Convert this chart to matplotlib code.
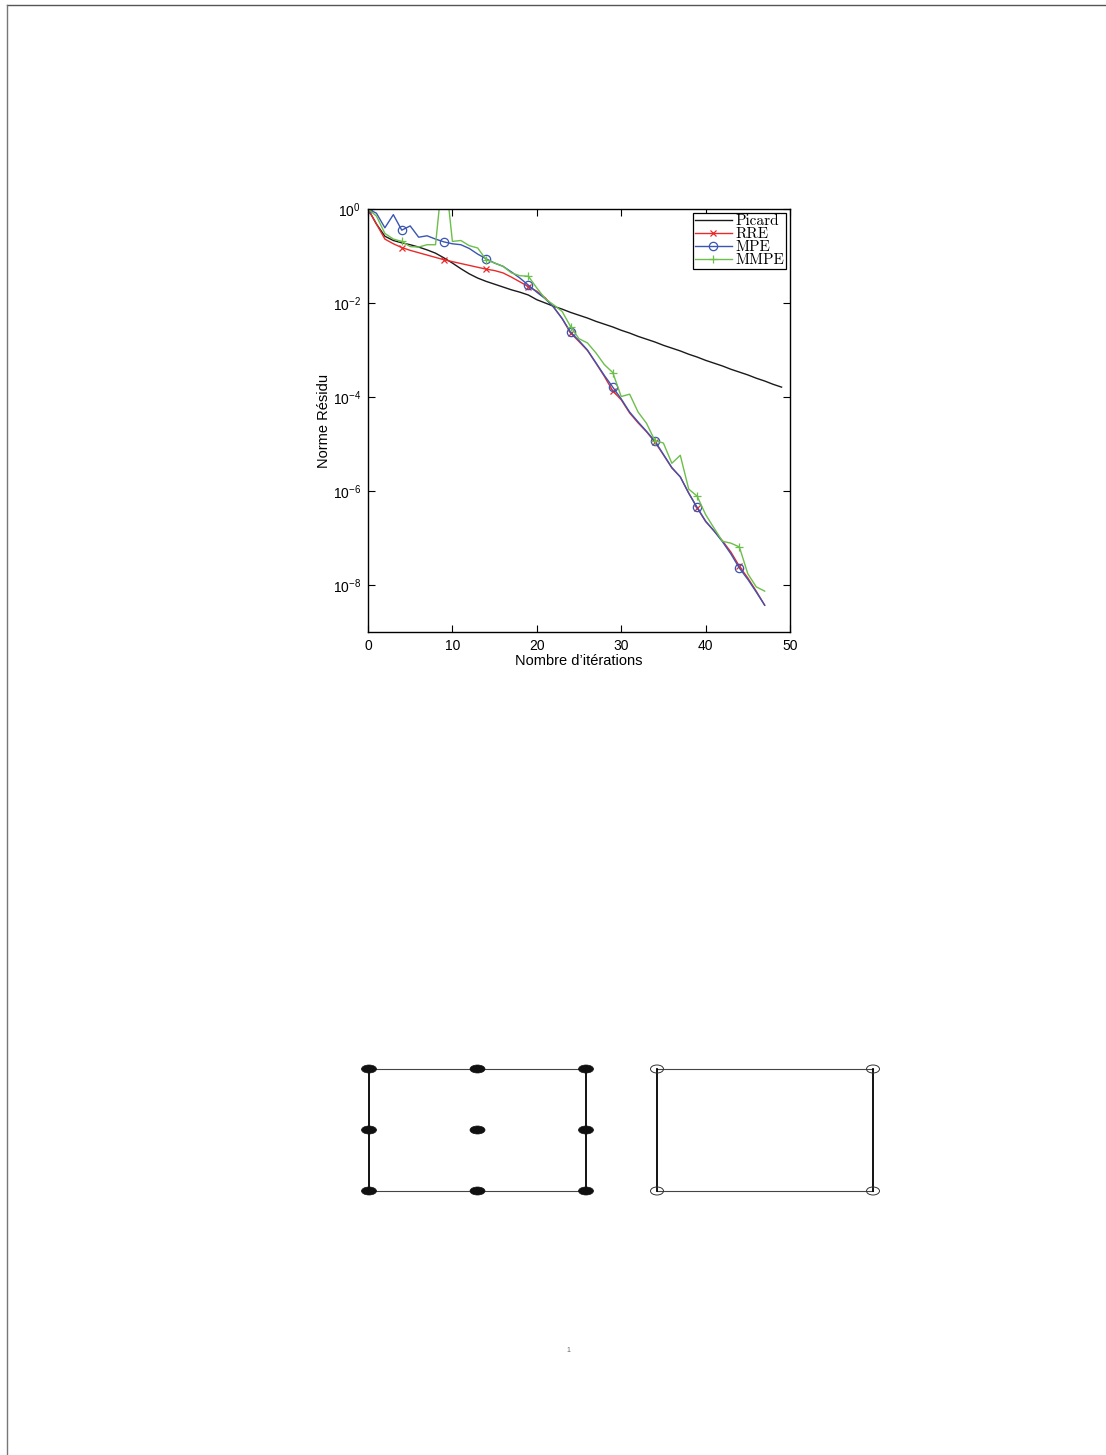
import numpy as np
import matplotlib
matplotlib.use("Agg")
import matplotlib.pyplot as plt
from matplotlib.patches import Ellipse
from matplotlib.lines import Line2D

# ---------------- data (log10 of residual norm) ----------------
picard_log10 = [0.00, -0.32, -0.58, -0.67, -0.72, -0.76, -0.81, -0.87, -0.94, -1.04,
                -1.15, -1.27, -1.38, -1.47, -1.54, -1.60, -1.66, -1.72, -1.77, -1.83,
                -1.93, -2.00, -2.07, -2.13, -2.20, -2.26, -2.32, -2.39, -2.45, -2.51,
                -2.58, -2.64, -2.71, -2.77, -2.83, -2.90, -2.96, -3.02, -3.09, -3.15,
                -3.22, -3.28, -3.34, -3.41, -3.47, -3.53, -3.60, -3.66, -3.73, -3.79]
rre_log10 = [0.00, -0.32, -0.64, -0.74, -0.82, -0.88, -0.93, -0.98, -1.03, -1.08,
             -1.12, -1.16, -1.20, -1.24, -1.28, -1.31, -1.36, -1.45, -1.55, -1.65,
             -1.75, -1.89, -2.09, -2.33, -2.64, -2.82, -3.01, -3.28, -3.56, -3.87,
             -4.06, -4.34, -4.55, -4.74, -4.96, -5.23, -5.51, -5.70, -6.04, -6.36,
             -6.65, -6.85, -7.06, -7.30, -7.60, -7.85, -8.13, -8.43]
mpe_log10 = [0.00, -0.09, -0.40, -0.12, -0.45, -0.36, -0.60, -0.57, -0.64, -0.70,
             -0.74, -0.76, -0.84, -0.96, -1.06, -1.15, -1.22, -1.34, -1.47, -1.62,
             -1.77, -1.91, -2.09, -2.33, -2.62, -2.80, -3.00, -3.27, -3.54, -3.79,
             -4.04, -4.32, -4.53, -4.73, -4.94, -5.22, -5.50, -5.70, -6.05, -6.35,
             -6.64, -6.85, -7.08, -7.34, -7.64, -7.88, -8.15, -8.43]
mmpe_log10 = [0.00, -0.15, -0.52, -0.64, -0.69, -0.80, -0.81, -0.76, -0.76, 1.00,
              -0.69, -0.67, -0.78, -0.83, -1.08, -1.15, -1.22, -1.36, -1.42, -1.43,
              -1.68, -1.91, -2.04, -2.18, -2.50, -2.76, -2.85, -3.06, -3.31, -3.48,
              -3.99, -3.94, -4.32, -4.56, -4.93, -4.98, -5.41, -5.24, -5.96, -6.11,
              -6.50, -6.79, -7.07, -7.11, -7.19, -7.76, -8.04, -8.13]
marker_iters = [0, 4, 9, 14, 19, 24, 29, 34, 39, 44]
series_labels = ["Picard", "RRE", "MPE", "MMPE"]
x_ticks = [0, 10, 20, 30, 40, 50]
y_tick_exponents = [0, -2, -4, -6, -8]
x_label = "Nombre d\u2019it\u00e9rations"
y_label = "Norme R\u00e9sidu"
page_number = "1"

# schematic element grids (fractions of each rectangle)
left_nodes_u = [0.0, 0.5, 1.0]
left_nodes_v = [0.0, 0.5, 1.0]
right_nodes_u = [0.0, 1.0]
right_nodes_v = [0.0, 1.0]

# ---------------- styling ----------------
plt.rcParams['font.family'] = ['Liberation Sans', 'DejaVu Sans']
plt.rcParams['mathtext.fontset'] = 'custom'
plt.rcParams['mathtext.rm'] = 'Liberation Sans'
plt.rcParams['mathtext.it'] = 'Liberation Sans:italic'
plt.rcParams['mathtext.bf'] = 'Liberation Sans:bold'

W, H = 1106, 1455
fig = plt.figure(figsize=(W / 100, H / 100), dpi=100)
fig.patch.set_facecolor('white')

def fbox(x0, y0, x1, y1):
    return [x0 / W, 1 - y1 / H, (x1 - x0) / W, (y1 - y0) / H]

# ---------------- main chart ----------------
ax = fig.add_axes(fbox(368, 209, 790, 632))
col_picard = '#1a1a1a'
col_rre = '#ea2a2a'
col_mpe = '#3a55b2'
col_mmpe = '#6cbf4a'

it_p = np.arange(len(picard_log10))
it_r = np.arange(len(rre_log10))
it_m = np.arange(len(mpe_log10))
it_g = np.arange(len(mmpe_log10))

ax.semilogy(it_p, 10.0 ** np.array(picard_log10), color=col_picard, lw=1.0, label=series_labels[0])
ax.semilogy(it_r, 10.0 ** np.array(rre_log10), color=col_rre, lw=1.0, marker='x', ms=4,
            mew=0.9, markevery=marker_iters, label=series_labels[1])
ax.semilogy(it_m, 10.0 ** np.array(mpe_log10), color=col_mpe, lw=1.0, marker='o', ms=6,
            mfc='none', mew=0.9, markevery=marker_iters, label=series_labels[2])
ax.semilogy(it_g, 10.0 ** np.array(mmpe_log10), color=col_mmpe, lw=1.0, marker='+', ms=6,
            mew=0.9, markevery=marker_iters, label=series_labels[3])

ax.set_xlim(0, 50)
ax.set_ylim(1e-9, 1e0)
ax.set_xticks(x_ticks)
ax.set_xticklabels([str(t) for t in x_ticks])
ax.set_yticks([10.0 ** e for e in y_tick_exponents])
ax.set_yticklabels([r'$10^{%d}$' % e for e in y_tick_exponents])
ax.yaxis.set_minor_locator(matplotlib.ticker.NullLocator())
ax.tick_params(axis='both', which='both', direction='in', length=5, width=0.8,
               top=True, right=True, labelsize=10, pad=5, colors='black')
for s in ax.spines.values():
    s.set_linewidth(1.0)
    s.set_color('black')
ax.set_xlabel(x_label, fontsize=10.5, labelpad=1)
ax.set_ylabel(y_label, fontsize=10.5, labelpad=1)

leg = ax.legend(loc='upper right', prop={'family': ['cmr10', 'DejaVu Serif'], 'size': 11},
                frameon=True, fancybox=False, edgecolor='black', framealpha=1,
                borderpad=0.12, labelspacing=-0.05, handlelength=2.4, handletextpad=0.25,
                borderaxespad=0.25)
leg.get_frame().set_linewidth(0.9)

# ---------------- schematic (lower part of page) ----------------
ax2 = fig.add_axes([0, 0, 1, 1])
ax2.set_xlim(0, W)
ax2.set_ylim(H, 0)
ax2.axis('off')

rects = [(369, 1069, 586, 1191), (657, 1069, 873, 1191)]
for (x0, y0, x1, y1) in rects:
    ax2.add_line(Line2D([x0, x1], [y0, y0], color='#444444', lw=0.8))
    ax2.add_line(Line2D([x0, x1], [y1, y1], color='#444444', lw=0.8))
    ax2.add_line(Line2D([x0, x0], [y0, y1], color='black', lw=1.3))
    ax2.add_line(Line2D([x1, x1], [y0, y1], color='black', lw=1.3))

x0, y0, x1, y1 = rects[0]
for u in left_nodes_u:
    for v in left_nodes_v:
        ax2.add_patch(Ellipse((x0 + u * (x1 - x0), y0 + v * (y1 - y0)), 15, 8,
                              facecolor='#111111', edgecolor='#111111', lw=0.5, zorder=3))
x0, y0, x1, y1 = rects[1]
for u in right_nodes_u:
    for v in right_nodes_v:
        ax2.add_patch(Ellipse((x0 + u * (x1 - x0), y0 + v * (y1 - y0)), 13, 8,
                              facecolor='none', edgecolor='#333333', lw=0.7, zorder=3))

ax2.text(568, 1350, page_number, fontsize=5, color='#666666', ha='center', va='center')

# page border (top and left)
ax2.add_line(Line2D([7, W], [5, 5], color='#555555', lw=1.0))
ax2.add_line(Line2D([7, 7], [5, H], color='#777777', lw=1.0))

fig.savefig('out.png', dpi=100, facecolor='white')
